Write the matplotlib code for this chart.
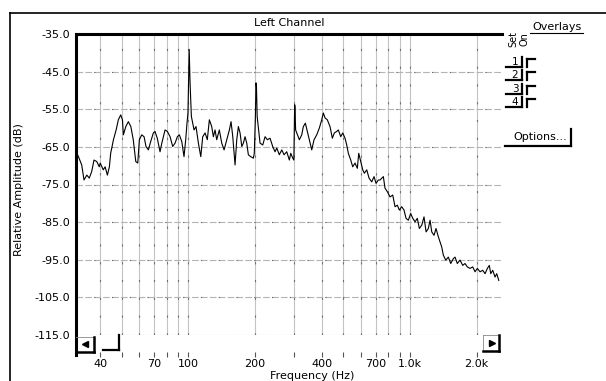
import matplotlib
matplotlib.use("Agg")
import matplotlib.pyplot as plt
from matplotlib.lines import Line2D

# spectrum (Hz, dB)
freq_hz = [
    31.1, 31.9, 33.0, 33.8, 34.8, 35.7, 36.6, 37.5, 38.6, 39.6, 40.0, 41.3, 42.1, 43.1,
    44.0, 44.6, 45.9, 47.2, 48.3, 49.5, 50.4, 50.9, 52.2, 53.6, 55.0, 56.4, 57.9, 59.1,
    60.1, 61.6, 63.1, 64.4, 66.0, 67.6, 69.5, 70.7, 72.4, 74.5, 75.9, 78.5, 80.4,
    82.7, 85.0, 87.1, 89.2, 91.1, 93.4, 95.6, 97.3, 98.6, 99.6, 100.3, 100.9, 101.8, 103.2,
    106.1, 108.3, 111.0, 113.8, 116.1, 119.0, 121.8, 124.4, 127.5, 129.7, 132.0, 134.3,
    138.0, 141.5, 145.0, 149.1, 153.2, 155.9, 158.7, 162.5, 165.4, 168.2, 171.2, 174.3,
    177.2, 180.3, 183.5, 186.6, 191.3, 196.6, 198.5, 200.8, 202.0, 203.0, 204.5, 210.7,
    216.7, 222.0, 227.4,
    233.8, 240.4, 246.3, 250.7, 257.5, 264.1, 270.5, 278.1, 285.8, 290.0, 296.1, 299.5,
    301.0, 302.0, 303.0, 305.0, 317.1, 325.1, 330.5, 337.5, 344.5, 351.8, 360.7, 369.4,
    379.9, 390.3, 400.2, 406.9, 414.2, 424.1, 436.2, 446.8, 456.2, 467.7, 475.6, 487.5,
    497.8, 509.8, 518.9, 527.6, 541.0, 552.3, 565.7, 579.4, 587.9, 600.2, 612.9, 623.2,
    638.9, 654.4, 673.0, 689.3, 703.7, 720.8,
    733.7, 759.3, 772.7, 791.4, 813.9, 837.1, 857.4, 878.1, 896.5, 919.1, 941.4, 961.4,
    984.5, 1009, 1031, 1056, 1081, 1104, 1132, 1159, 1184, 1212, 1234, 1256, 1286, 1313,
    1345, 1369, 1393, 1417, 1453, 1492, 1530, 1572, 1600, 1638, 1685, 1733, 1775, 1818,
    1870, 1923, 1970, 2017, 2075, 2134, 2186, 2239, 2285, 2319, 2368, 2425, 2468, 2521,
]
level_db = [
    -66.3, -67.6, -69.8, -73.8, -72.5, -73.3, -71.6, -68.5, -68.9, -70.3, -69.3, -71.1, -70.3, -72.5,
    -70.3, -66.7, -63.1, -60.5, -57.8, -56.5, -57.8, -61.8, -59.6, -58.3, -59.6, -63.1, -68.9, -69.3,
    -63.1, -61.8, -62.3, -64.9, -65.8, -63.6, -61.3, -60.9, -62.7, -66.3, -64.0, -60.5, -60.9,
    -62.3, -64.9, -64.0, -62.3, -61.8, -63.6, -67.6, -63.1, -58.7, -56.0, -47.1, -39.1, -48.0, -56.9,
    -60.5, -59.6, -64.0, -67.6, -62.3, -61.3, -63.1, -57.8, -59.6, -62.3, -60.5, -63.1,
    -60.5, -64.0, -65.8, -63.1, -60.5, -58.3, -62.3, -69.8, -63.1, -59.6, -61.3, -64.9,
    -64.0, -62.3, -64.0, -67.1, -67.6, -68.0, -66.7, -56.9, -48.0, -48.9, -56.9, -64.0,
    -64.5, -62.3, -63.1,
    -62.7, -64.9, -66.3, -65.3, -67.1, -65.8, -67.1, -66.3, -68.5, -66.7, -68.0, -68.5,
    -59.6, -53.8, -54.3, -60.5, -63.1, -61.8, -59.6, -58.7, -60.9, -63.1, -65.8, -63.1,
    -61.8, -60.0, -57.8, -56.0, -57.3, -57.8, -59.6, -62.7, -61.3, -60.9, -60.5, -62.3,
    -61.3, -62.7, -64.5, -66.7, -68.5, -70.3, -69.3, -70.7, -66.7, -68.9, -71.1, -72.0,
    -71.1, -73.3, -74.3, -72.9, -74.7, -73.8,
    -73.8, -72.9, -76.0, -76.9, -78.3, -77.8, -80.9, -80.5, -81.8, -80.9, -81.8, -84.0,
    -84.5, -82.7, -84.0, -84.9, -84.0, -86.7, -85.8, -83.6, -87.6, -86.7, -84.5, -87.6,
    -88.5, -86.7, -88.9, -90.3, -91.6, -93.8, -95.1, -94.3, -96.0, -94.7, -94.3, -96.0,
    -95.1, -96.5, -96.0, -96.9, -97.3, -96.9, -98.2, -97.3, -98.2, -97.8, -98.7, -97.3,
    -96.5, -98.7, -97.8, -99.6, -98.7, -100.5,
]

y_ticks = [-115, -105, -95, -85, -75, -65, -55, -45, -35]
grid_freqs = [40, 50, 60, 70, 80, 90, 100, 200, 300, 400, 500, 600, 700, 800, 900, 1000, 2000]
freq_labels = {40: "40", 70: "70", 100: "100", 200: "200", 400: "400",
               700: "700", 1000: "1.0k", 2000: "2.0k"}
overlay_sets = ["1", "2", "3", "4"]

W, H = 606, 381
fig = plt.figure(figsize=(W / 100, H / 100), dpi=100)


def fx(x):
    return x / W


def fy(y):
    return 1 - y / H


def fline(xs, ys, lw=1.0, color="black", **kw):
    fig.add_artist(Line2D([fx(v) for v in xs], [fy(v) for v in ys], lw=lw,
                          color=color, transform=fig.transFigure, **kw))


ax = fig.add_axes([fx(76), fy(335), (501 - 76) / W, (335 - 34) / H])
ax.set_xscale("log")
ax.set_xlim(31.1, 2580)
ax.set_ylim(-115, -35)

ax.plot(freq_hz, level_db, color="black", lw=0.8, zorder=3)

# grid: light grey lines with a sparse darker dash pattern
for f in grid_freqs:
    ax.axvline(f, color="#c4c4c4", lw=0.8, zorder=1)
    ax.axvline(f, color="#707070", lw=0.8, ls=(0, (2, 14)), zorder=1)
for v in y_ticks[1:-1]:
    ax.axhline(v, color="#b4b4b4", lw=0.8, ls=(0, (6, 2)), zorder=1)
    ax.axhline(v, color="#666666", lw=0.8, ls=(0, (1, 15)), zorder=1)
ax.axhline(-115, color="#777777", lw=0.8, ls=(0, (1, 1.5)), zorder=1)

for s in ax.spines.values():
    s.set_visible(False)
ax.spines["bottom"].set_position(("outward", 12.5))

ax.set_yticks(y_ticks)
ax.set_yticklabels([f"{v:.1f}" for v in y_ticks])
ax.set_xticks(grid_freqs)
ax.set_xticklabels([freq_labels.get(f, "") for f in grid_freqs])
ax.xaxis.set_minor_locator(matplotlib.ticker.NullLocator())
ax.tick_params(axis="y", length=0, pad=4.3, labelsize=8)
ax.tick_params(axis="x", length=3.5, width=0.8, color="#555555", pad=1.5, labelsize=8)

# plot frame: thick left and top edges
fline([76, 502], [33.5, 33.5], lw=2.2)
fline([76, 76], [33.5, 355], lw=2.2)

# outer window frame and title band
fline([10, 606], [13, 13], lw=1.2)
fline([10, 10], [13, 381], lw=1.2)
fig.text(fx(289), fy(23), "Left Channel", ha="center", va="center", fontsize=8)
fig.text(fx(19), fy(190), "Relative Amplitude (dB)", rotation=90,
         ha="center", va="center", fontsize=8)
fig.text(fx(312), fy(371), "Frequency (Hz)", ha="center", va="top", fontsize=8)

# scroll buttons
fline([76, 93.5], [337, 337], lw=0.6, color="#888888")
fline([93.5, 93.5], [337, 352], lw=1.8)
fline([76, 93.5], [352, 352], lw=1.8)
fig.add_artist(Line2D([fx(85)], [fy(344)], marker="<", markersize=5, color="black",
                      transform=fig.transFigure))
fline([103, 119], [350, 350], lw=1.6)
fline([119, 119], [335, 350], lw=1.6)

fline([483, 483], [335, 351], lw=0.6, color="#888888")
fline([483, 499], [335, 335], lw=0.6, color="#888888")
fline([499, 499], [335, 351], lw=1.8)
fline([483, 499], [351, 351], lw=1.8)
fig.add_artist(Line2D([fx(491.5)], [fy(343)], marker=">", markersize=5, color="black",
                      transform=fig.transFigure))

# overlays panel
fig.text(fx(557), fy(27), "Overlays", ha="center", va="center", fontsize=8)
fline([530, 583], [32.5, 32.5], lw=0.8)
fig.text(fx(513), fy(39), "Set", rotation=90, ha="center", va="center", fontsize=7)
fig.text(fx(525), fy(39), "On", rotation=90, ha="center", va="center", fontsize=7)
for i, lab in enumerate(overlay_sets):
    yc = 62 + i * 13.3
    fig.text(fx(515), fy(yc), lab, ha="center", va="center", fontsize=7.5)
    fline([521.5, 521.5], [yc - 5, yc + 5], lw=1.6)
    fline([506, 521.5], [yc + 5, yc + 5], lw=1.6)
    fline([527, 527], [yc - 3, yc + 5], lw=1.6)
    fline([527, 535], [yc - 3, yc - 3], lw=1.6)

fig.text(fx(540), fy(137), "Options...", ha="center", va="center", fontsize=8)
fline([571, 571], [129, 146], lw=1.6)
fline([505, 571], [146, 146], lw=1.6)

fig.savefig("out.png", dpi=100)
